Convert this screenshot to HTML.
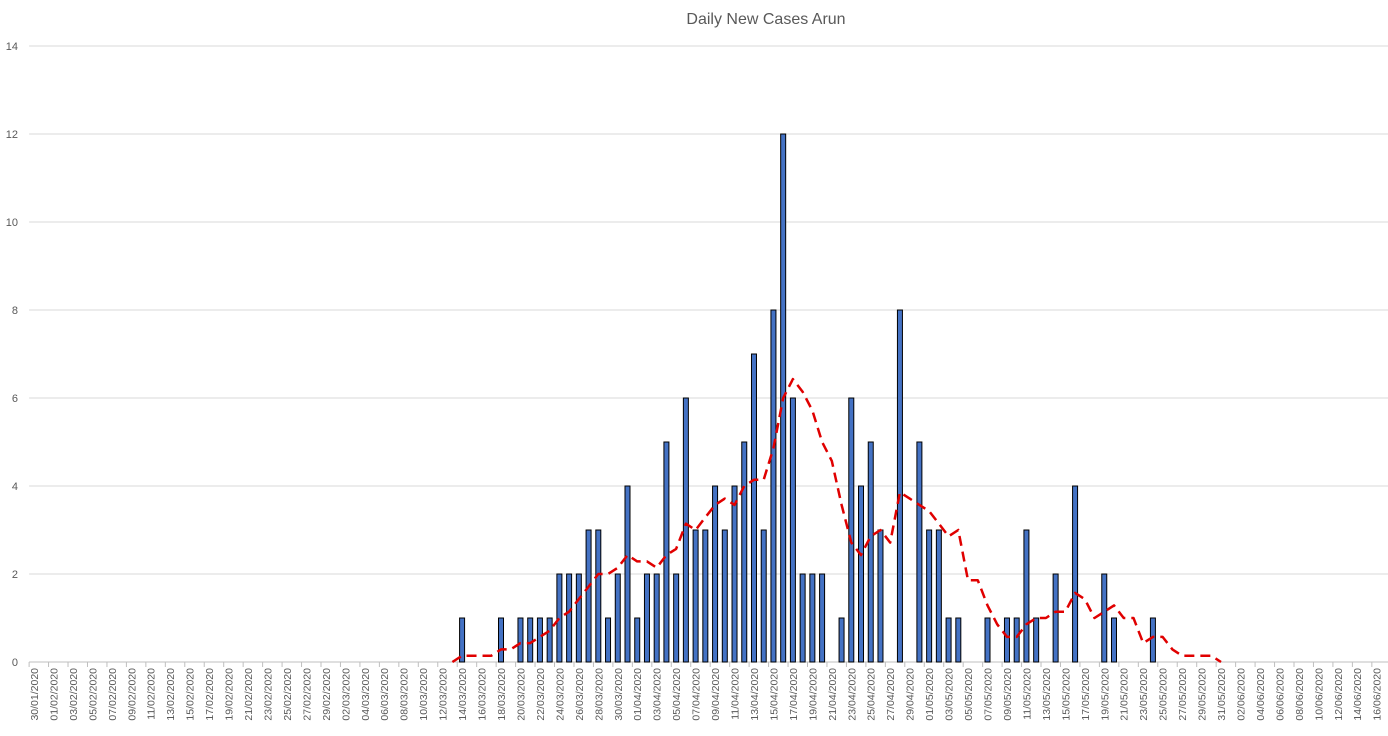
<!DOCTYPE html>
<html><head><meta charset="utf-8"><style>
body{margin:0;background:#fff;}
svg{display:block;font-family:"Liberation Sans",sans-serif;}
</style></head><body>
<svg id="chart" width="1388" height="736" viewBox="0 0 1388 736">
<text x="766" y="24" text-anchor="middle" font-size="16" fill="#595959">Daily New Cases Arun</text>
<g id="grid"></g><g id="bars"></g><g id="line"></g><g id="axes"></g>
</svg>
<script>
const startDate = [2020, 0, 30];
const numDays = 140;
const caseDays = [44,48,50,51,52,53,54,55,56,57,58,59,60,61,62,63,64,65,66,67,68,69,70,71,72,73,74,75,76,77,78,79,80,81,83,84,85,86,87,89,91,92,93,94,95,98,100,101,102,103,105,107,110,111,115];
const caseValues = [1,1,1,1,1,1,2,2,2,3,3,1,2,4,1,2,2,5,2,6,3,3,4,3,4,5,7,3,8,12,6,2,2,2,1,6,4,5,3,8,5,3,3,1,1,1,1,1,3,1,2,4,2,1,1];
const yTicks = [0,2,4,6,8,10,12,14];
const avgStart = 43, avgEnd = 122, period = 7;

const NS="http://www.w3.org/2000/svg";
const plotL=29.1, step=9.73, y0=662, yTop=46, yMax=14;
const xc=i=>plotL+step*(i+0.5);
const yv=v=>y0-(y0-yTop)*v/yMax;
function mk(tag,attrs,parent){const e=document.createElementNS(NS,tag);for(const k in attrs)e.setAttribute(k,attrs[k]);document.getElementById(parent).appendChild(e);return e;}

yTicks.forEach(t=>{
  const g=mk('line',{x1:plotL,x2:1388,y1:yv(t),y2:yv(t),stroke:t===0?'#bfbfbf':'#d9d9d9','stroke-width':1},'grid');
  
  
  const l=mk('text',{x:18,y:yv(t)+4,'text-anchor':'end','font-size':11,fill:'#595959'},'axes');
  l.textContent=t;
  
  
});

const daily=new Array(numDays).fill(0);
caseDays.forEach((d,k)=>{daily[d]=caseValues[k];});

caseDays.forEach((d,k)=>{
  const v=caseValues[k];
  const r=mk('rect',{x:xc(d)-2.5,y:yv(v),width:5,height:y0-yv(v),fill:'#4472C4',stroke:'#000','stroke-width':1},'bars');
  
  
});

let pts=[];
for(let i=avgStart;i<=avgEnd;i++){let s=0;for(let j=i-period+1;j<=i;j++)s+=daily[j]||0;pts.push(xc(i).toFixed(1)+','+yv(s/period).toFixed(1));}
const pl=mk('polyline',{points:pts.join(' '),fill:'none',stroke:'#E00000','stroke-width':2.5,'stroke-dasharray':'10,6','stroke-linejoin':'round'},'line');



for(let i=0;i<=numDays;i+=2){
  const tx=plotL+step*i;
  const tk=mk('line',{x1:tx,x2:tx,y1:y0,y2:y0+5,stroke:'#bfbfbf','stroke-width':1},'axes');
  
  
}
for(let i=0;i<numDays;i+=2){
  const d=new Date(startDate[0],startDate[1],startDate[2]+i);
  const s=String(d.getDate()).padStart(2,'0')+'/'+String(d.getMonth()+1).padStart(2,'0')+'/'+d.getFullYear();
  const x=xc(i)+4, y=668;
  const t=mk('text',{x:x,y:y,'text-anchor':'end','font-size':10.5,fill:'#595959',transform:`rotate(-90 ${x} ${y})`},'axes');
  t.textContent=s;
  
  
}
</script>
</body></html>
